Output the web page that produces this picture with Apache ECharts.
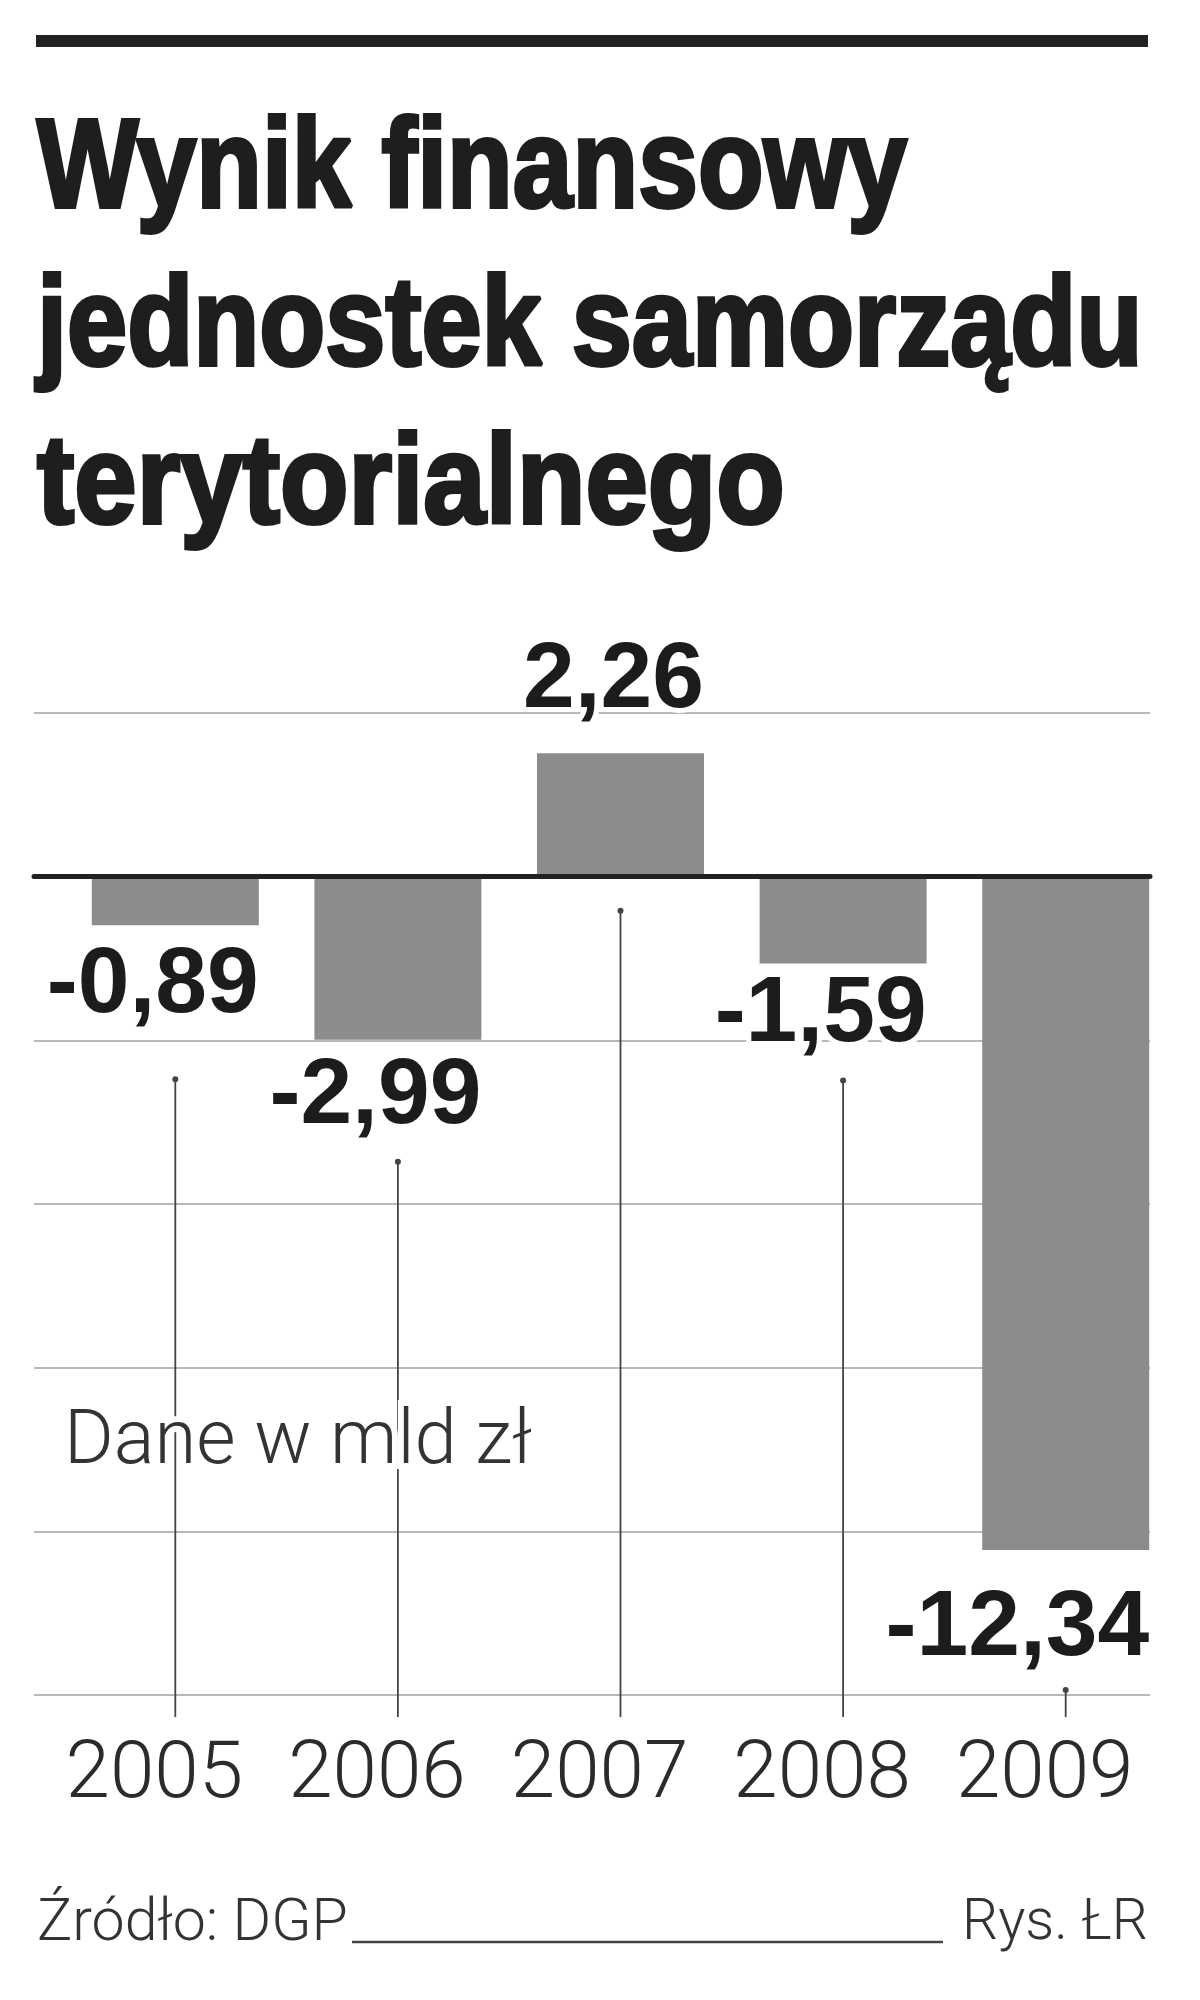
<!DOCTYPE html>
<html lang="pl">
<head>
<meta charset="utf-8">
<title>Wynik finansowy jednostek samorządu terytorialnego</title>
<script src="https://cdn.jsdelivr.net/npm/echarts@6/dist/echarts.min.js"></script>
<style>
  html, body { margin: 0; padding: 0; background: #fff; }
  #chart { width: 1200px; height: 2000px; }
</style>
</head>
<body>
<div id="chart"></div>
<script>
// dane (mld zł)
const years = ["2005", "2006", "2007", "2008", "2009"];
const values = [-0.89, -2.99, 2.26, -1.59, -12.34];
const yTicks = [-15, -12, -9, -6, -3, 0, 3];
const titleLines = ["Wynik finansowy", "jednostek samorządu", "terytorialnego"];
const unitNote = "Dane w mld zł";
const sourceNote = "Źródło: DGP";
const authorNote = "Rys. ŁR";

// odstępy podpisów i linii odnośników (px)
const labelDistance = [15, 11, 26, 5, 33];
const leaderOffset = [152, 120, 32, 115, 138];
// zwężenie kolejnych linii tytułu
const titleScale = [0.853, 0.858, 0.89];

let yMin = yTicks[0];
let yMax = yTicks[yTicks.length - 1];
let yStep = yTicks[1] - yTicks[0];
let gridTop = 713;
let gridHeight = 982;
let barWidth = 167;

let fmt = (v) => v.toFixed(2).replace(".", ",");

let chartDom = document.getElementById("chart");
let myChart = echarts.init(chartDom);
let option;

let titleFont = "bold 126px 'Liberation Sans', Arial, sans-serif";
let lightFont = "'Roboto', 'Liberation Sans', sans-serif";

let graphic = [
  {
    type: "rect",
    shape: { x: 36, y: 35, width: 1112, height: 12 },
    style: { fill: "#222" },
  },
  {
    type: "line",
    shape: { x1: 352, y1: 1942, x2: 943, y2: 1942 },
    style: { stroke: "#444", lineWidth: 2.5 },
  },
];
titleLines.forEach((line, i) => {
  graphic.push({
    type: "text",
    x: 37,
    y: 172 + i * 158,
    scaleX: titleScale[i],
    style: {
      text: line,
      font: titleFont,
      fill: "#1e1e1e",
      stroke: "#1e1e1e",
      lineWidth: 4,
      verticalAlign: "middle",
      textVerticalAlign: "middle",
    },
  });
});
graphic.push({
  type: "text",
  x: 64,
  y: 1444,
  z: 100,
  style: {
    text: unitNote,
    font: "300 76px " + lightFont,
    fill: "#333",
    stroke: "#fff",
    lineWidth: 12,
    verticalAlign: "middle",
    textVerticalAlign: "middle",
  },
});
graphic.push({
  type: "text",
  x: 37,
  y: 1925,
  style: {
    text: sourceNote,
    font: "300 59px " + lightFont,
    fill: "#333",
    verticalAlign: "middle",
    textVerticalAlign: "middle",
  },
});
graphic.push({
  type: "text",
  x: 1148,
  y: 1925,
  style: {
    text: authorNote,
    font: "300 57px " + lightFont,
    fill: "#333",
    align: "right",
    textAlign: "right",
    verticalAlign: "middle",
    textVerticalAlign: "middle",
  },
});

option = {
  animation: false,
  backgroundColor: "#fff",
  graphic: graphic,
  grid: [
    { left: 34, top: gridTop, width: 1116, height: gridHeight },
    { left: 64, top: gridTop, width: 1113, height: gridHeight },
  ],
  xAxis: [
    {
      gridIndex: 0,
      type: "value",
      min: 0,
      max: 1,
      z: 10,
      axisLine: {
        show: true,
        onZero: true,
        lineStyle: { color: "#222", width: 5 },
      },
      axisTick: { show: false },
      axisLabel: { show: false },
      splitLine: { show: false },
    },
    {
      gridIndex: 1,
      type: "category",
      data: years,
      axisLine: { show: false, onZero: false },
      axisTick: { show: false },
      axisLabel: {
        interval: 0,
        margin: 42,
        padding: [0, 42, 0, 0],
        fontFamily: lightFont,
        fontWeight: 300,
        fontSize: 80,
        lineHeight: 80,
        color: "#2b2b2b",
      },
    },
  ],
  yAxis: [
    {
      gridIndex: 0,
      type: "value",
      min: yMin,
      max: yMax,
      interval: yStep,
      axisLine: { show: false },
      axisTick: { show: false },
      axisLabel: { show: false },
      splitLine: { lineStyle: { color: "#b8b8b8", width: 2 } },
    },
    {
      gridIndex: 1,
      type: "value",
      min: yMin,
      max: yMax,
      interval: yStep,
      show: false,
      splitLine: { show: false },
    },
  ],
  series: [
    {
      type: "custom",
      xAxisIndex: 1,
      yAxisIndex: 1,
      z: 1,
      silent: true,
      data: values.map((v, i) => [i, v]),
      renderItem: function (params, api) {
        let i = api.value(0);
        let v = api.value(1);
        let x = api.coord([i, 0])[0];
        let low = api.coord([i, Math.min(v, 0)])[1];
        let top = low + leaderOffset[i];
        let bottom = api.coord([i, yMin])[1] + 22;
        return {
          type: "group",
          children: [
            {
              type: "line",
              shape: { x1: x, y1: top, x2: x, y2: bottom },
              style: { stroke: "#444", lineWidth: 1.8 },
            },
            {
              type: "circle",
              shape: { cx: x, cy: top + 2, r: 3 },
              style: { fill: "#444" },
            },
          ],
        };
      },
    },
    {
      type: "bar",
      xAxisIndex: 1,
      yAxisIndex: 1,
      z: 2,
      barWidth: barWidth,
      itemStyle: { color: "#8c8c8c" },
      label: {
        show: true,
        formatter: (p) => fmt(p.value),
        fontFamily: "'Liberation Sans', Arial, sans-serif",
        fontWeight: "bold",
        fontSize: 93,
        lineHeight: 93,
        color: "#1c1c1c",
        align: "right",
        offset: [barWidth / 2, 0],
        textBorderColor: "#fff",
        textBorderWidth: 10,
      },
      data: values.map((v, i) => ({
        value: v,
        label: {
          position: v < 0 ? "bottom" : "top",
          distance: labelDistance[i],
        },
      })),
    },
  ],
};

option && myChart.setOption(option);
</script>
</body>
</html>
